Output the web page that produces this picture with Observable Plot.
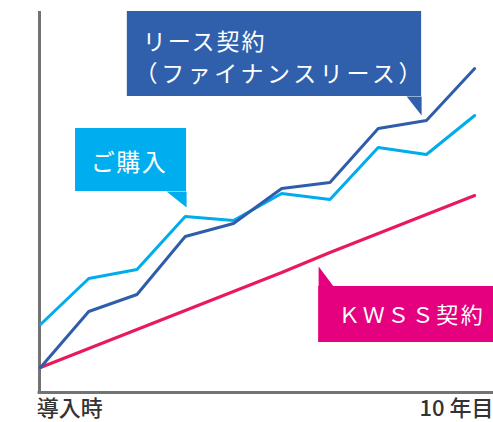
<!DOCTYPE html>
<html>
<head>
<meta charset="utf-8">
<script src="https://cdn.jsdelivr.net/npm/d3@7"></script>
<script src="https://cdn.jsdelivr.net/npm/@observablehq/plot@0.6"></script>
<style>
  html, body { margin: 0; padding: 0; background: #fff; }
  svg { display: block; font-family: "Noto Sans CJK JP", "Noto Sans", sans-serif; }
</style>
</head>
<body>
<div id="chart"></div>
<script>
// Years (index 0 = 導入時 ... 9 = 10年目)
const years = [0, 1, 2, 3, 4, 5, 6, 7, 8, 9];
// Cumulative cost (arbitrary units)
const purchase = [68, 114, 123, 176, 172, 199, 193, 245, 238, 277];
const lease    = [25, 81, 98, 156, 169, 204, 210, 264, 272, 324];
const kwss     = [25, 44, 63, 82, 101, 120, 140, 159, 178, 197];

const axisLabels = ["導入時", "10 年目"];
const seriesLabels = ["リース契約", "（ファイナンスリース）", "ご購入", "ＫＷＳＳ契約"];

const colors = {
  lease: "#2f5dab",
  purchase: "#00acec",
  kwss: "#e8195c",
  leaseBox: "#305fac",
  purchaseBox: "#00adee",
  kwssBox: "#e4007f",
  axis: "#737373",
  label: "#333333"
};

// Callout boxes (data coordinates)
const leaseBox = [{x1: 1.80, x2: 7.90, y1: 296, y2: 381}];
const leasePtr = [{x: 7.59, y: 296}, {x: 7.90, y: 296}, {x: 7.90, y: 277}, {x: 7.59, y: 296}];
const purchaseBox = [{x1: 0.726, x2: 3.028, y1: 201, y2: 264}];
const purchasePtr = [{x: 2.613, y: 201}, {x: 3.028, y: 201}, {x: 3.028, y: 185}, {x: 2.613, y: 201}];
const kwssBox = [{x1: 5.765, x2: 9.39, y1: 50, y2: 106}];
const kwssPtr = [{x: 5.765, y: 126}, {x: 5.765, y: 106}, {x: 6.076, y: 106}, {x: 5.765, y: 126}];

const toRows = (vals) => years.map((x, i) => ({x, y: vals[i]}));

const plot = Plot.plot({
  width: 493,
  height: 422,
  marginLeft: 40,
  marginRight: 0,
  marginTop: 11,
  marginBottom: 30,
  x: {domain: [0, 9.39], axis: null},
  y: {domain: [0, 381], axis: null},
  style: {background: "#fff", overflow: "visible"},
  marks: [
    Plot.ruleX([0], {stroke: colors.axis, strokeWidth: 3, dx: -1, y1: 0, y2: 381}),
    Plot.ruleY([0], {stroke: colors.axis, strokeWidth: 3, x1: -0.05, x2: 9.39}),
    Plot.line(toRows(kwss), {x: "x", y: "y", stroke: colors.kwss, strokeWidth: 3, strokeLinejoin: "miter"}),
    Plot.line(toRows(purchase), {x: "x", y: "y", stroke: colors.purchase, strokeWidth: 3, strokeLinejoin: "miter"}),
    Plot.line(toRows(lease), {x: "x", y: "y", stroke: colors.lease, strokeWidth: 3, strokeLinejoin: "miter"}),
    // callouts
    Plot.rect(leaseBox, {x1: "x1", x2: "x2", y1: "y1", y2: "y2", fill: colors.leaseBox}),
    Plot.line(leasePtr, {x: "x", y: "y", fill: colors.leaseBox, stroke: "none"}),
    Plot.text([seriesLabels[0]], {x: 2.12, y: 350, text: d => d, textAnchor: "start", fill: "#fff", fontSize: 23}),
    Plot.text([seriesLabels[1]], {x: 1.95, y: 318, text: d => d, textAnchor: "start", fill: "#fff", fontSize: 23}),
    Plot.rect(purchaseBox, {x1: "x1", x2: "x2", y1: "y1", y2: "y2", fill: colors.purchaseBox}),
    Plot.line(purchasePtr, {x: "x", y: "y", fill: colors.purchaseBox, stroke: "none"}),
    Plot.text([seriesLabels[2]], {x: 1.04, y: 229, text: d => d, textAnchor: "start", fill: "#fff", fontSize: 24}),
    Plot.rect(kwssBox, {x1: "x1", x2: "x2", y1: "y1", y2: "y2", fill: colors.kwssBox}),
    Plot.line(kwssPtr, {x: "x", y: "y", fill: colors.kwssBox, stroke: "none"}),
    Plot.text([seriesLabels[3]], {x: 6.17, y: 77, text: d => d, textAnchor: "start", fill: "#fff", fontSize: 22}),
    // axis end labels
    Plot.text([axisLabels[0]], {x: -0.08, y: -16, text: d => d, textAnchor: "start", fill: colors.label, fontSize: 22, fontWeight: 500}),
    Plot.text([axisLabels[1]], {x: 9.39, y: -16, text: d => d, textAnchor: "end", fill: colors.label, fontSize: 22, fontWeight: 500})
  ]
});

const spacing = {
  "リース契約": 2,
  "（ファイナンスリース）": 3.6,
  "ご購入": 1.5,
  "ＫＷＳＳ契約": 2.5
};
d3.select(plot).selectAll("text").each(function () {
  const t = this.textContent;
  if (spacing[t] != null) this.setAttribute("letter-spacing", spacing[t]);
});
document.getElementById("chart").appendChild(plot);
</script>
</body>
</html>
